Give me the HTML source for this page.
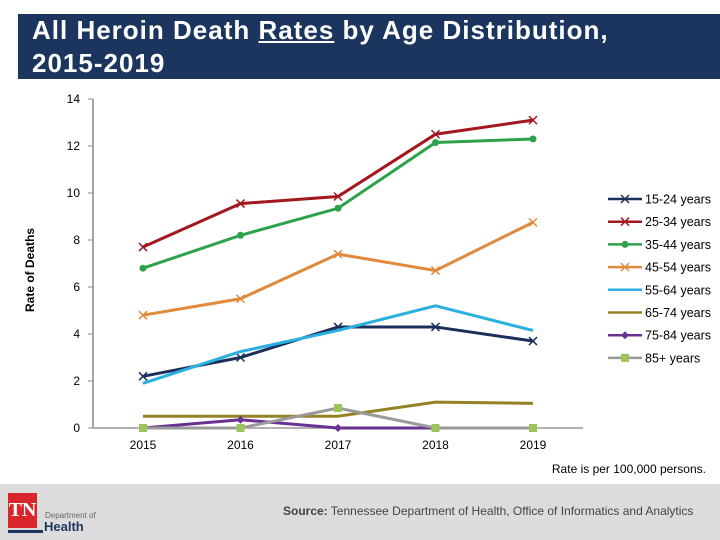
<!DOCTYPE html>
<html><head><meta charset="utf-8"><style>
body{margin:0;width:720px;height:540px;background:#fff;font-family:"Liberation Sans",sans-serif;position:relative;overflow:hidden}
#title{position:absolute;left:18px;top:14px;width:702px;height:65px;background:#1c355e;color:#fff;font-weight:bold;font-size:26px;letter-spacing:1px;line-height:33px;padding:0 0 0 14px;box-sizing:border-box}
#footer{position:absolute;left:0;top:484px;width:720px;height:56px;background:#dcdcdc}
</style></head><body>
<div id="title">All Heroin Death <u>Rates</u> by Age Distribution,<br>2015-2019</div>
<svg id="chart" width="720" height="484" style="position:absolute;left:0;top:0"></svg>
<div style="position:absolute;right:14px;top:462px;font-size:12px">Rate is per 100,000 persons.</div>
<div id="footer">
 <div style="position:absolute;left:8px;top:9px;width:29px;height:35px;background:#d9262c;color:#fff;font-family:'Liberation Serif',serif;font-weight:bold;font-size:20px;line-height:35px;text-align:center">TN</div>
 <div style="position:absolute;left:8px;top:46px;width:35px;height:3px;background:#1c355e"></div>
 <div style="position:absolute;left:45px;top:27px;font-size:8px;color:#666">Department of</div>
 <div style="position:absolute;left:44px;top:35px;font-size:13px;font-weight:bold;color:#1c355e">Health</div>
 <div style="position:absolute;left:283px;top:20px;font-size:12px;color:#444"><b>Source:</b> Tennessee Department of Health, Office of Informatics and Analytics</div>
</div>
<script>
const years=["2015","2016","2017","2018","2019"];
const yTicks=[0,2,4,6,8,10,12,14];
const seriesNames=["15-24 years","25-34 years","35-44 years","45-54 years","55-64 years","65-74 years","75-84 years","85+ years"];
const s1524=[2.2,3.0,4.3,4.3,3.7];
const s2534=[7.7,9.55,9.85,12.5,13.1];
const s3544=[6.8,8.2,9.35,12.15,12.3];
const s4554=[4.8,5.5,7.4,6.7,8.75];
const s5564=[1.9,3.25,4.15,5.2,4.15];
const s6574=[0.5,0.5,0.5,1.1,1.05];
const s7584=[0,0.35,0,0,null];
const s85=[0,0,0.85,0,0];
const colors=["#1c2f5a","#a3171f","#2ea24a","#e08a3c","#2ab0e0","#958226","#6a3092","#9a9a9a"];
const markers=["x","x","circle","x","none","none","diamond","square"];
const data=[s1524,s2534,s3544,s4554,s5564,s6574,s7584,s85];
const NS="http://www.w3.org/2000/svg",svg=document.getElementById('chart');
const X0=143,DX=97.5,Y0=428,PY=23.5;
const xs=i=>X0+i*DX, ys=v=>Y0-v*PY;
function mk(t,a,txt){const e=document.createElementNS(NS,t);for(const k in a)e.setAttribute(k,a[k]);if(txt!=null)e.textContent=txt;svg.appendChild(e);return e;}
let e=mk('line',{x1:93,y1:99,x2:93,y2:Y0,stroke:'#888','stroke-width':1.5});

e=mk('line',{x1:93,y1:Y0,x2:583,y2:Y0,stroke:'#999','stroke-width':1.5});

yTicks.forEach(v=>{mk('line',{x1:88,y1:ys(v),x2:93,y2:ys(v),stroke:'#888'});
 e=mk('text',{x:80,y:ys(v)+4,'text-anchor':'end','font-size':12},v);
 });
years.forEach((y,i)=>{e=mk('text',{x:xs(i),y:449,'text-anchor':'middle','font-size':12},y);
 });
e=mk('text',{x:34,y:270,'text-anchor':'middle','font-size':12,'font-weight':'bold',transform:'rotate(-90 34 270)'},'Rate of Deaths');

function marker(type,x,y,c){
 if(type==='x'){mk('path',{d:`M${x-4},${y-4}L${x+4},${y+4}M${x-4},${y+4}L${x+4},${y-4}`,stroke:c,'stroke-width':1.5,fill:'none'});}
 else if(type==='circle')mk('circle',{cx:x,cy:y,r:3.5,fill:c});
 else if(type==='diamond')mk('path',{d:`M${x},${y-4}L${x+4},${y}L${x},${y+4}L${x-4},${y}Z`,fill:c});
 else if(type==='square')mk('rect',{x:x-4,y:y-4,width:8,height:8,fill:'#9bc45a'});
}
data.forEach((arr,si)=>{
 let d='',pen=false;
 arr.forEach((v,i)=>{if(v==null){pen=false;return;}d+=(pen?'L':'M')+xs(i)+','+ys(v);pen=true;});
 e=mk('path',{d:d,stroke:colors[si],'stroke-width':3,fill:'none'});
 
 arr.forEach((v,i)=>{if(v!=null)marker(markers[si],xs(i),ys(v),colors[si]);});
 const ly=199+si*22.7;
 mk('line',{x1:608,y1:ly,x2:642,y2:ly,stroke:colors[si],'stroke-width':2.5});
 marker(markers[si],625,ly,colors[si]);
 e=mk('text',{x:645,y:ly+4.5,'font-size':12.5},seriesNames[si]);
 
});
</script>
</body></html>
